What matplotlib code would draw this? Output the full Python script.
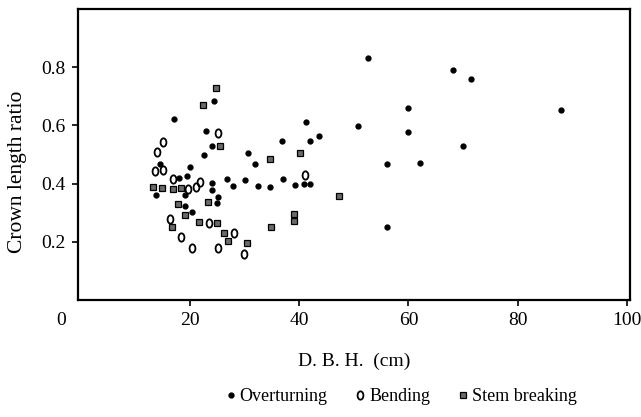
import numpy as np
import matplotlib
matplotlib.use("Agg")
import matplotlib.pyplot as plt
from matplotlib.path import Path
from matplotlib.transforms import Affine2D, ScaledTranslation

plt.rcParams['font.family'] = ['Liberation Serif', 'DejaVu Serif']

# Overturning (filled dots)
over_dbh = [14.4, 13.8, 17.1, 17.9, 19.4, 19.9, 19.1, 19.1, 20.4, 22.5,
            23.0, 24.3, 24.1, 24.0, 24.1, 25.1, 24.9, 26.8, 27.9, 30.0,
            30.6, 31.9, 32.4, 34.6, 36.8, 37.0, 39.2, 40.8, 41.9, 41.2,
            42.0, 43.7, 50.8, 52.6, 56.1, 56.0, 59.9, 60.0, 62.1, 68.1,
            69.9, 71.5, 88.0]
over_ratio = [0.467, 0.359, 0.622, 0.420, 0.425, 0.457, 0.359, 0.323, 0.302, 0.498,
              0.582, 0.683, 0.529, 0.402, 0.378, 0.355, 0.333, 0.417, 0.393, 0.411,
              0.504, 0.468, 0.391, 0.389, 0.548, 0.414, 0.394, 0.398, 0.397, 0.611,
              0.548, 0.563, 0.598, 0.832, 0.468, 0.249, 0.576, 0.659, 0.471, 0.792,
              0.529, 0.761, 0.652]

# Bending (open circles)
bend_dbh = [15.1, 14.0, 13.5, 15.0, 16.8, 21.9, 21.1, 19.7, 16.3, 18.3,
            20.4, 23.5, 28.0, 25.2, 29.9, 25.2, 41.1]
bend_ratio = [0.543, 0.509, 0.442, 0.447, 0.415, 0.406, 0.387, 0.383, 0.279, 0.216,
              0.180, 0.264, 0.231, 0.180, 0.157, 0.575, 0.429]

# Stem breaking (squares)
stem_dbh = [13.2, 14.9, 16.8, 18.4, 17.8, 19.1, 21.6, 16.7, 23.2, 25.0,
            26.2, 27.0, 30.5, 22.4, 24.8, 25.4, 34.6, 40.1, 47.2, 39.1,
            39.1, 34.8]
stem_ratio = [0.387, 0.385, 0.383, 0.385, 0.328, 0.293, 0.268, 0.251, 0.337, 0.264,
              0.231, 0.201, 0.194, 0.672, 0.730, 0.529, 0.485, 0.506, 0.357, 0.295,
              0.270, 0.251]

# tall "o" shaped marker
oval = Path.unit_circle().transformed(Affine2D().scale(0.7, 1.0))

fig = plt.figure(figsize=(6.41, 4.17), dpi=100)
ax = fig.add_axes([0.122, 0.281, 0.861, 0.697])

ax.plot(over_dbh, over_ratio, linestyle='none', marker='o', markersize=3.5,
        color='black', label='Overturning')
ax.plot(bend_dbh, bend_ratio, linestyle='none', marker=oval, markersize=6,
        markerfacecolor='none', markeredgecolor='black', markeredgewidth=1.3,
        label='Bending')
ax.plot(stem_dbh, stem_ratio, linestyle='none', marker='s', markersize=4.2,
        markerfacecolor='#6a6a6a', markeredgecolor='black', markeredgewidth=0.9,
        label='Stem breaking')

ax.set_xlim(-0.5, 100.6)
ax.set_ylim(0, 1.0)
ax.set_xticks([0, 20, 40, 60, 80, 100])
ax.set_yticks([0.2, 0.4, 0.6, 0.8])
ax.set_yticklabels(['0.2', '0.4', '0.6', '0.8'])
ax.tick_params(direction='out', length=4, width=1.2, labelsize=14, pad=5)
ax.xaxis.get_major_ticks()[0].tick1line.set_visible(False)

# the "0" label sits a bit left of the corner in the original
lbl0 = ax.get_xticklabels()[0]
lbl0.set_transform(lbl0.get_transform() + ScaledTranslation(-20 / 100, 0, fig.dpi_scale_trans))

for sp in ax.spines.values():
    sp.set_linewidth(1.6)

ax.set_xlabel('D. B. H.  (cm)', fontsize=14, labelpad=17)
ax.set_ylabel('Crown length ratio', fontsize=15.5)
ax.yaxis.set_label_coords(-0.092, 0.44)

fig.legend(loc='lower center', bbox_to_anchor=(0.624, -0.01), ncol=3, frameon=False,
           fontsize=13, handletextpad=0.1, columnspacing=1.4, handlelength=0.8)

fig.savefig('out.png', dpi=100)
